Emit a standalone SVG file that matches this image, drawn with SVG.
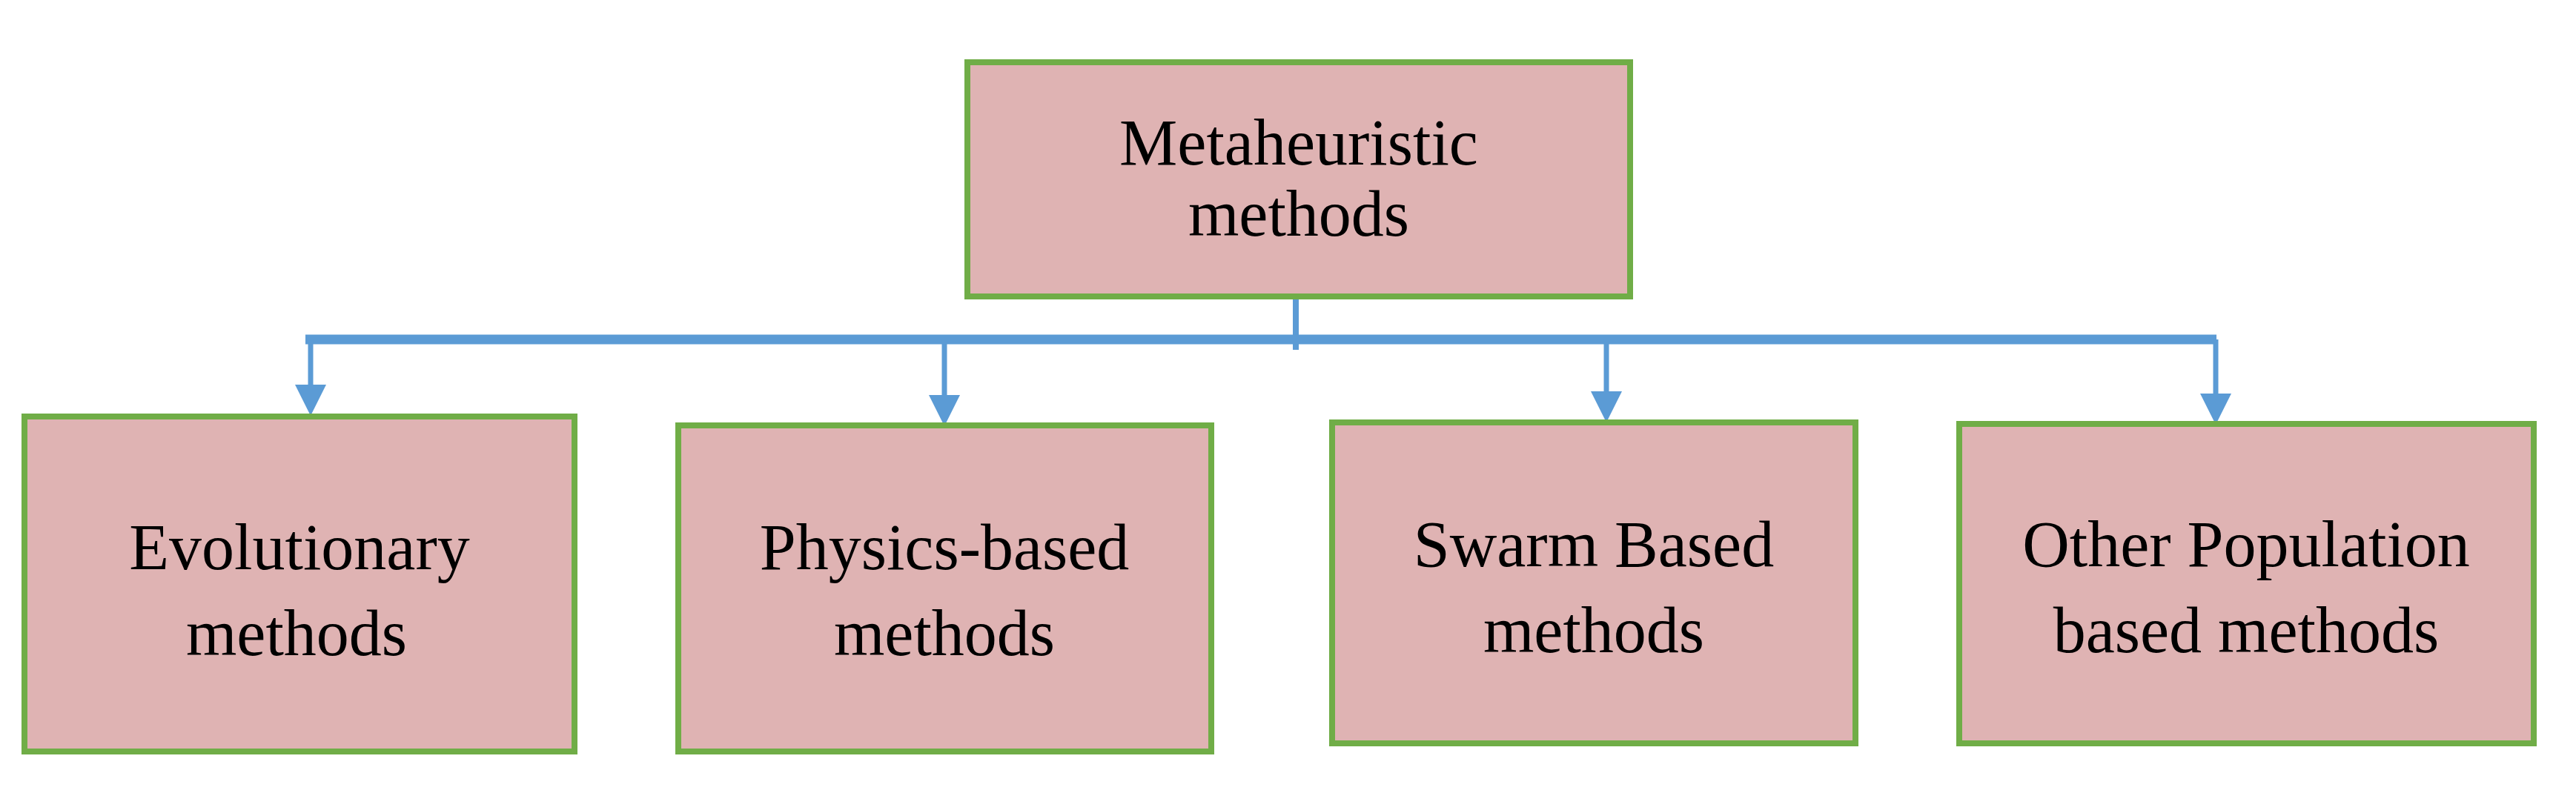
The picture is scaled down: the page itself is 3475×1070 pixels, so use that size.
<svg xmlns="http://www.w3.org/2000/svg" width="3475" height="1070" viewBox="0 0 3475 1070">
<style>
.box{fill:#dfb3b3;stroke:#70ad47;stroke-width:8}
.t{font-family:"Liberation Serif",serif;font-size:88px;fill:#000;text-anchor:middle}
.c{stroke:#5b9bd5;fill:none}
</style>
<defs><marker id="a" markerWidth="6" markerHeight="6" refX="3" refY="3" orient="auto" markerUnits="strokeWidth"><path d="M0,0L6,3L0,6z" fill="#5b9bd5"/></marker></defs>
<rect width="3475" height="1070" fill="#fff"/>
<g id="connectors">
<path class="c" stroke-width="8" d="M1748,392V472"/>
<path class="c" stroke-width="13" d="M412,458H2990"/>
<path class="c" stroke-width="7" marker-end="url(#a)" d="M419,458V540"/>
<path class="c" stroke-width="7" marker-end="url(#a)" d="M1274,458V554"/>
<path class="c" stroke-width="7" marker-end="url(#a)" d="M2167,458V549"/>
<path class="c" stroke-width="7" marker-end="url(#a)" d="M2989,458V552"/>
</g>
<g id="top"><rect class="box" x="1305" y="84" width="894" height="316"/><text class="t" x="1752" y="222">Metaheuristic</text><text class="t" x="1752" y="318">methods</text></g>
<g id="n1"><rect class="box" x="33" y="562" width="742" height="452"/><text class="t" x="404" y="768">Evolutionary</text><text class="t" x="400" y="884">methods</text></g>
<g id="n2"><rect class="box" x="915" y="574" width="719" height="440"/><text class="t" x="1274" y="768">Physics-based</text><text class="t" x="1274" y="884">methods</text></g>
<g id="n3"><rect class="box" x="1797" y="570" width="706" height="433"/><text class="t" x="2150" y="764">Swarm Based</text><text class="t" x="2150" y="880">methods</text></g>
<g id="n4"><rect class="box" x="2643" y="572" width="775" height="431"/><text class="t" x="3030" y="764">Other Population</text><text class="t" x="3030" y="880">based methods</text></g>
</svg>
